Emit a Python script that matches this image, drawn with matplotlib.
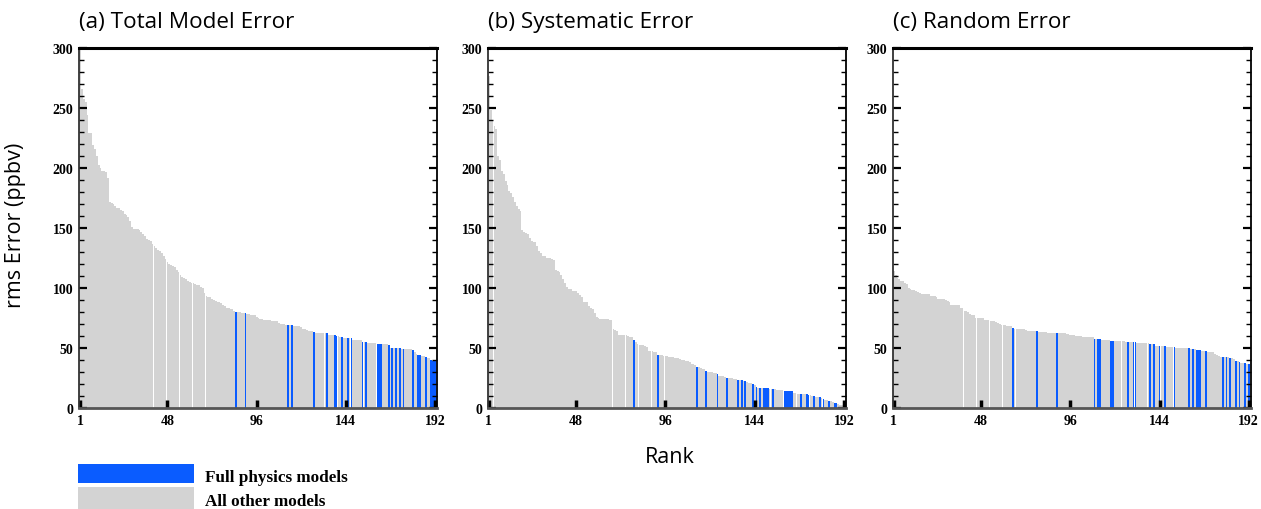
import numpy as np
import matplotlib
matplotlib.use("Agg")
import matplotlib.pyplot as plt
from matplotlib.patches import Rectangle

# rms error (ppbv) for the 192 models, sorted by rank
total_err = [
    301, 266, 258, 255, 244, 229, 229, 219, 216, 210, 203, 200, 198, 198, 197, 192,
    172, 171, 170, 168, 167, 167, 165, 164, 162, 161, 159, 156, 151, 149, 149, 149,
    148, 147, 145, 143, 141, 140, 139, 137, 135, 133, 132, 131, 129, 127, 124, 122,
    120, 119, 118, 117, 115, 113, 111, 109, 108, 107, 106, 105, 104, 104, 103, 102,
    102, 101, 100, 96, 93, 92, 92, 91, 90, 89, 88, 88, 87, 86, 85, 83,
    83, 82, 82, 81, 80, 80, 80, 79, 79, 79, 78, 78, 77, 77, 77, 76,
    75, 74, 74, 73, 73, 73, 73, 72, 72, 72, 72, 71, 70, 70, 70, 69,
    69, 69, 69, 68, 68, 68, 68, 67, 66, 66, 65, 64, 64, 64, 63, 62,
    62, 62, 62, 62, 62, 62, 61, 61, 61, 61, 60, 60, 59, 59, 58, 58,
    58, 58, 58, 56, 56, 56, 56, 56, 55, 55, 55, 54, 54, 54, 54, 54,
    53, 53, 53, 53, 53, 53, 52, 50, 50, 50, 50, 50, 50, 49, 49, 49,
    49, 49, 49, 48, 46, 45, 44, 44, 43, 43, 42, 41, 41, 40, 39, 39,
]
systematic_err = [
    277, 249, 239, 235, 233, 210, 207, 198, 195, 189, 186, 181, 179, 176, 172, 168,
    166, 164, 148, 147, 146, 145, 142, 139, 138, 138, 135, 131, 129, 127, 127, 125,
    125, 125, 124, 123, 115, 114, 113, 111, 107, 104, 101, 99, 99, 97, 97, 97,
    96, 94, 92, 88, 88, 88, 85, 83, 82, 79, 76, 75, 74, 74, 74, 74,
    74, 73, 73, 66, 65, 64, 61, 61, 61, 60.5, 60.5, 60, 59, 58.5, 56, 54.4,
    53, 52.5, 52, 52, 51, 50.5, 47.5, 47, 47, 46.5, 46.5, 43.8, 43.5, 43.5, 43.3, 43,
    43, 42.5, 42.5, 42, 41.5, 41, 41, 40.5, 40, 39.5, 39, 38.5, 38, 36.5, 36, 35.5,
    34.1, 33.5, 33, 32.5, 32, 30.7, 30, 29.5, 29.3, 29, 28.5, 27.6, 26.5, 26, 26, 25.5,
    24.8, 24.5, 24.5, 24.5, 24, 24, 23.4, 23, 22.6, 22.3, 22, 21, 20.5, 20.3, 19.3, 18.5,
    16.8, 16.3, 15.9, 15.9, 15.9, 15.9, 15.9, 15.6, 15.6, 15.6, 15.2, 15, 15, 14.8, 14.5, 14,
    13.8, 13.7, 13.6, 13.5, 12, 11.8, 11.7, 11.7, 11.7, 11, 10.9, 10.9, 10.8, 10.3, 10, 9.8,
    9, 8.6, 8.4, 8, 7.5, 6.3, 6, 5.3, 5.2, 5, 4, 3.8, 2.8, 2.3, 2, 1.6,
]
random_err = [
    114, 110.5, 108, 107.5, 106, 105.5, 104, 103, 99.5, 99, 98.5, 98, 97, 96.5, 96, 95,
    95, 95, 95, 94.5, 93, 93, 93, 92.5, 91, 91, 91, 90.5, 90, 89, 88.5, 86,
    86, 86, 86, 85.5, 83.5, 83, 80.5, 80.5, 80, 78, 77.5, 77, 75, 75, 75, 74.5,
    74.5, 73.5, 73.5, 73, 72, 72, 72, 71.5, 70.5, 70, 69, 69, 69, 68.5, 68.5, 68.5,
    66.2, 65.5, 65.5, 65.5, 65.4, 65.4, 65.3, 64.5, 64.3, 64.3, 64.3, 64, 64, 64, 63.2, 63.1,
    63, 63, 62.7, 62.6, 62.6, 62.6, 62.5, 62.5, 62, 62, 62, 62, 62, 61.5, 61.2, 61,
    60.6, 60.5, 59.8, 59.8, 59.7, 59.5, 58.8, 58.7, 58.7, 58.6, 58.5, 58.5, 57.3, 57, 57, 57,
    56.5, 56.4, 56.4, 56.4, 56.3, 55.9, 55.9, 55.4, 55.3, 55.3, 55.3, 55.2, 55.2, 55.1, 54.5, 54.5,
    54.5, 54.5, 54.5, 53.7, 53.6, 53.6, 53.6, 53.6, 53.5, 53.5, 52.8, 52.8, 52.8, 51.7, 51.6, 51.4,
    51.4, 51.4, 51.4, 50.6, 50.5, 50.4, 50.4, 50.3, 49.8, 49.7, 49.7, 49.6, 49.6, 49.6, 49.6, 49.5,
    49, 48.8, 48.5, 48.2, 48, 47.8, 47.4, 47.4, 47.1, 46.6, 46.5, 46.5, 46.4, 44.3, 43.8, 43,
    42.6, 42.5, 42.3, 42.2, 42, 41.6, 41, 40.2, 38.8, 38.5, 38, 36.9, 36.9, 36.8, 36, 36,
]

# ranks of the full physics models in each panel
full_total = [85, 90, 113, 115, 127, 134, 138, 139, 142, 145, 147, 153, 155, 161, 162, 163,
              167, 169, 171, 173, 175, 180, 183, 184, 187, 190, 191, 192]
full_systematic = [79, 92, 113, 118, 124, 129, 135, 137, 139, 143, 145, 147, 149, 150, 151, 154,
                   160, 161, 162, 163, 164, 169, 172, 173, 176, 179, 181, 184, 187, 188]
full_random = [65, 78, 89, 109, 111, 112, 118, 119, 127, 130, 131, 139, 141, 144, 147, 152,
               160, 162, 164, 165, 166, 169, 178, 180, 182, 185, 187, 190, 192]

titles = ["(a) Total Model Error", "(b) Systematic Error", "(c) Random Error"]
rank_ticks = [1, 48, 96, 144, 192]

BLUE = "#0a5cff"
GREY = "#d3d3d3"
serif = "Liberation Serif"
sans = "Open Sans"

fig = plt.figure(figsize=(12.61, 5.10), dpi=100)
lefts = [0.0626, 0.3868, 0.7079]

panels = [(total_err, full_total), (systematic_err, full_systematic), (random_err, full_random)]
for i, (vals, full) in enumerate(panels):
    vals = np.array(vals, dtype=float)
    assert len(vals) == 192
    ranks = np.arange(1, len(vals) + 1)
    colors = [BLUE if r in full else GREY for r in ranks]

    ax = fig.add_axes([lefts[i], 0.199, 0.2839, 0.704])
    ax.bar(ranks, vals, width=0.97, color=colors, linewidth=0)
    ax.set_xlim(0.4, 193)
    ax.set_ylim(0, 300)

    ax.set_yticks(np.arange(0, 301, 50))
    ax.set_yticks(np.arange(0, 301, 10), minor=True)
    ax.tick_params(axis="y", which="major", direction="in", length=6, width=1.6,
                   left=True, right=True, labelsize=10, pad=4)
    ax.tick_params(axis="y", which="minor", direction="in", length=3.5, width=1.0,
                   left=True, right=True)
    ax.set_xticks(rank_ticks)
    ax.tick_params(axis="x", which="major", direction="in", length=6, width=2.5,
                   labelsize=10, pad=5)
    for lab in ax.get_yticklabels() + ax.get_xticklabels():
        lab.set_fontfamily(serif)
        lab.set_fontweight("bold")

    ax.spines["top"].set_linewidth(2.2)
    ax.spines["top"].set_color("black")
    ax.spines["right"].set_linewidth(1.3)
    ax.spines["left"].set_linewidth(1.3)
    ax.spines["left"].set_color("#333333")
    ax.spines["bottom"].set_linewidth(2.0)
    ax.spines["bottom"].set_color("#555555")

    ax.text(0.0, 1.075, titles[i], transform=ax.transAxes, fontsize=16.2,
            fontfamily=sans, ha="left", va="center")

fig.text(0.012, 0.558, "rms Error (ppbv)", rotation=90, fontsize=15.5, fontfamily=sans,
         ha="center", va="center")
fig.text(0.531, 0.102, "Rank", fontsize=15.5, fontfamily=sans, ha="center", va="center")

# legend drawn by hand below panel (a)
fig.patches.append(Rectangle((78 / 1261, 1 - 484 / 510), 116 / 1261, 19 / 510,
                             transform=fig.transFigure, facecolor=BLUE, edgecolor="none"))
fig.patches.append(Rectangle((78 / 1261, 0.0), 116 / 1261, 22 / 510,
                             transform=fig.transFigure, facecolor=GREY, edgecolor="none"))
fig.text(205 / 1261, 1 - 478 / 510, "Full physics models", fontsize=12.3, fontfamily=serif,
         fontweight="bold", ha="left", va="center")
fig.text(205 / 1261, 1 - 502 / 510, "All other models", fontsize=12.3, fontfamily=serif,
         fontweight="bold", ha="left", va="center")

fig.savefig("out.png", dpi=100)
